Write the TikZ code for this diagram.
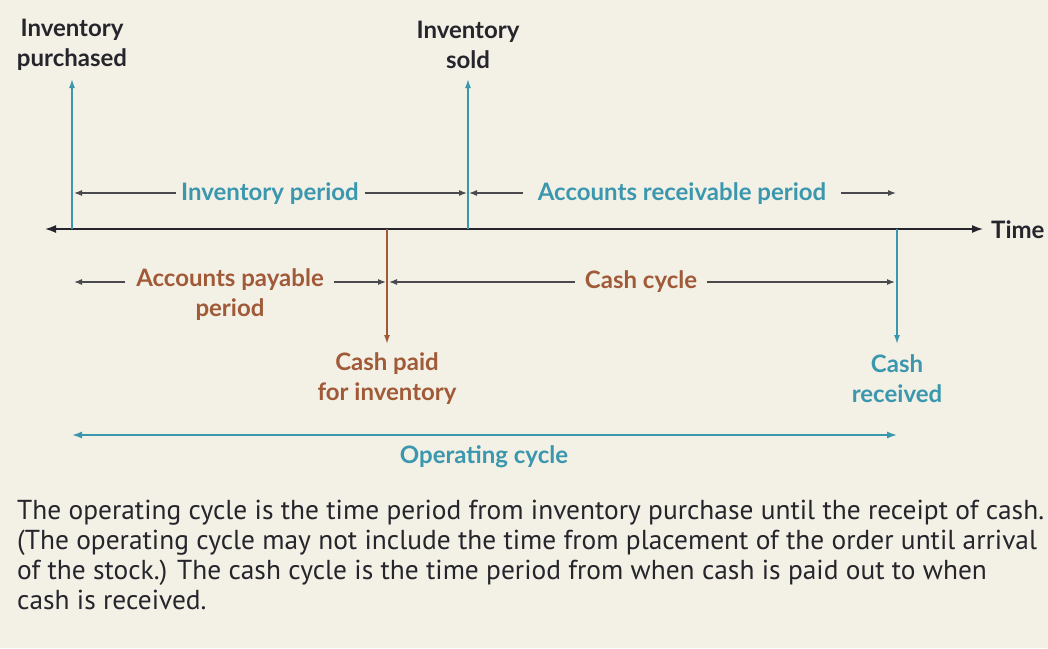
\documentclass[tikz,border=0pt]{standalone}
\usepackage{fontspec}
\setmainfont{PT Sans}
\newfontfamily\lblfont{Lato}[BoldFont={Lato Bold}]
\usetikzlibrary{arrows.meta}
\definecolor{bgc}{HTML}{F3F0E6}
\definecolor{teal}{HTML}{3A97AE}
\definecolor{brn}{HTML}{A05A38}
\definecolor{ink}{HTML}{25252B}
\definecolor{gline}{HTML}{4A4A4E}
\begin{document}
\begin{tikzpicture}[x=1pt,y=-1pt,
  lbl/.style={font=\lblfont\bfseries\fontsize{24}{30}\selectfont, align=center, inner sep=0pt},
  tealtext/.style={lbl, text=teal},
  brntext/.style={lbl, text=brn},
  inktext/.style={lbl, text=ink},
  span/.style={draw=gline, line width=1.2pt, -{Latex[length=8pt,width=6pt]}},
]
\fill[bgc] (0,0) rectangle (1048,648);
\useasboundingbox (0,0) rectangle (1048,648);

% time axis
\coordinate (tl) at (45,229);
\coordinate (tr) at (983,229);
\draw[ink, line width=1.5pt, {Latex[length=11pt,width=8pt]}-{Latex[length=11pt,width=8pt]}] (tl) -- (tr);
\node[inktext, anchor=west] (time) at (991,230) {Time};

% top labels
\node[inktext] (ip) at (72,45) {Inventory\\purchased};
\node[inktext] (is) at (468,45) {Inventory\\sold};
\coordinate (ipb) at (72,229);
\coordinate (isb) at (468,229);
\coordinate (ipt) at (72,79);
\coordinate (ist) at (468,79);
\draw[teal, line width=1.5pt, -{Latex[length=9pt,width=6pt]}] (ipb) -- (ipt);
\draw[teal, line width=1.5pt, -{Latex[length=9pt,width=6pt]}] (isb) -- (ist);

% inventory period
\node[tealtext] (invp) at (270,194) {Inventory period};
\coordinate (invl) at (74,193);
\coordinate (invr) at (467,193);
\draw[span] (invp.west) ++(-5,-1) coordinate (invpw) -- (invl);
\draw[span] (invp.east) ++(6,-1) coordinate (invpe) -- (invr);

% accounts receivable period
\node[tealtext] (arp) at (682,194) {Accounts receivable period};
\coordinate (arl) at (469,193);
\coordinate (arr) at (896,193);
\draw[span] (arp.west) ++(-15,-1) coordinate (arpw) -- (arl);
\draw[span] (arp.east) ++(15,-1) coordinate (arpe) -- (arr);

% cash paid
\coordinate (cpt) at (387,229);
\coordinate (cpb) at (387,344);
\draw[brn, line width=1.5pt, -{Latex[length=9pt,width=6pt]}] (cpt) -- (cpb);
\node[brntext] (cp) at (387,379) {Cash paid\\for inventory};

% cash received
\coordinate (crt) at (897,229);
\coordinate (crb) at (897,344);
\draw[teal, line width=1.5pt, -{Latex[length=9pt,width=6pt]}] (crt) -- (crb);
\node[tealtext] (cr) at (897,379) {Cash\\received};

% accounts payable period
\node[brntext] (app) at (230,295) {Accounts payable\\period};
\coordinate (apl) at (74,282);
\coordinate (apr) at (386,282);
\coordinate (appw) at (125,282);
\coordinate (appe) at (334,282);
\draw[span] (appw) -- (apl);
\draw[span] (appe) -- (apr);

% cash cycle
\node[brntext] (cc) at (641,282) {Cash cycle};
\coordinate (ccl) at (389,282);
\coordinate (ccr) at (895,282);
\draw[span] (cc.west) ++(-10,0) coordinate (ccw) -- (ccl);
\draw[span] (cc.east) ++(10,0) coordinate (cce) -- (ccr);

% operating cycle
\coordinate (ocl) at (72,435);
\coordinate (ocr) at (897,435);
\draw[teal, line width=1.5pt, {Latex[length=10pt,width=7pt]}-{Latex[length=10pt,width=7pt]}] (ocl) -- (ocr);
\node[tealtext] (oc) at (484,457) {Operating cycle};

% caption
\node[anchor=north west, inner sep=0pt, align=left, text=ink,
  font=\fontsize{27.4}{30}\selectfont] (cap) at (17,500)
{The operating cycle is the time period from inventory purchase until the receipt of cash.\\
(The operating cycle may not include the time from placement of the order until arrival\\
of the stock.) The cash cycle is the time period from when cash is paid out to when\\
cash is received.};
\end{tikzpicture}
\end{document}
